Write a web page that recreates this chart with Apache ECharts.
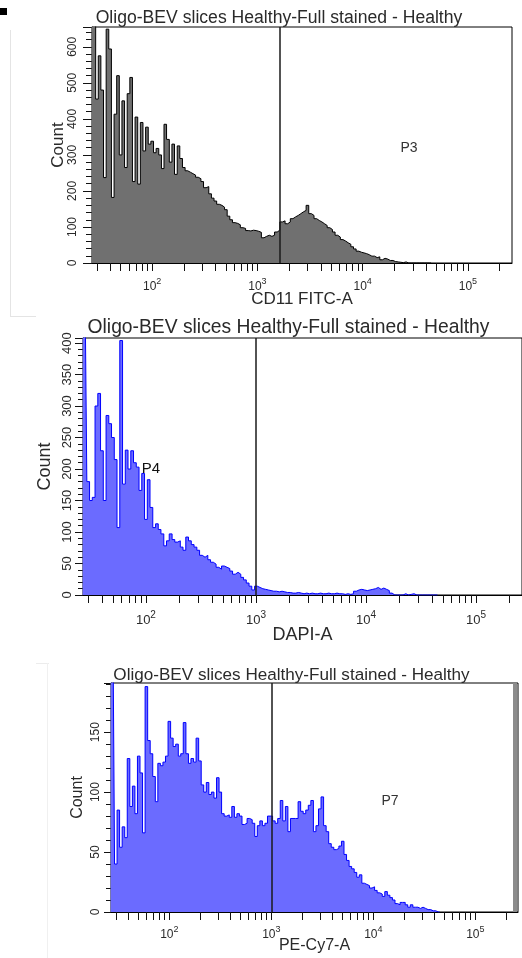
<!DOCTYPE html>
<html>
<head>
<meta charset="utf-8">
<script src="https://cdn.jsdelivr.net/npm/echarts@6/dist/echarts.min.js"></script>
<style>
  html, body { margin: 0; padding: 0; background: #fff; }
  #chart { width: 522px; height: 958px; }
</style>
</head>
<body>
<div id="chart"></div>
<script>
// ---- data -------------------------------------------------------------
const plotTitle = 'Oligo-BEV slices Healthy-Full stained - Healthy';
const channelNames = ['CD11 FITC-A', 'DAPI-A', 'PE-Cy7-A'];
const gateNames = ['P3', 'P4', 'P7'];
const gateValues = [1620, 1000, 1000];

// histogram bin centres (fluorescence intensity)
const binCenters = [26.6, 28.2, 29.9, 31.6, 33.5, 35.5, 37.6, 39.8, 42.2, 44.7,
  47.3, 50.1, 53.1, 56.2, 59.6, 63.1, 66.8, 70.8, 75.0, 79.4,
  84.1, 89.1, 94.4, 100, 106, 112, 119, 126, 133, 141,
  150, 158, 168, 178, 188, 200, 211, 224, 237, 251,
  266, 282, 299, 316, 335, 355, 376, 398, 422, 447,
  473, 501, 531, 562, 596, 631, 668, 708, 750, 794,
  841, 891, 944, 1000, 1059, 1122, 1189, 1259, 1334, 1413,
  1496, 1585, 1679, 1778, 1884, 1995, 2113, 2239, 2371, 2512,
  2661, 2818, 2985, 3162, 3350, 3548, 3758, 3981, 4217, 4467,
  4732, 5012, 5309, 5623, 5957, 6310, 6683, 7079, 7499, 7943,
  8414, 8913, 9441, 10000, 10593, 11220, 11885, 12589, 13335, 14125,
  14962, 15849, 16788, 17783, 18836, 19953, 21135, 22387, 23714, 25119,
  26607, 28184, 29854, 31623, 33497, 35481, 37584, 39811, 42170, 44668];

const cd11Counts = [700, 680, 455, 575, 480, 237, 649, 594, 182, 413,
  520, 300, 450, 265, 470, 515, 226, 405, 219, 390,
  311, 377, 330, 338, 306, 318, 300, 262, 385, 343,
  280, 330, 246, 325, 290, 265, 256, 252, 248, 244,
  238, 234, 226, 209, 212, 192, 180, 172, 163, 160,
  155, 148, 130, 120, 112, 110, 106, 98, 96, 90,
  89, 91, 90, 88, 85, 70, 74, 77, 74, 77,
  86, 91, 114, 117, 109, 114, 123, 128, 132, 137,
  142, 146, 160, 137, 132, 123, 118, 114, 109, 104,
  98, 93, 86, 77, 72, 65, 61, 56, 52, 45,
  39, 33, 30, 28, 26, 23, 19, 19, 15, 17,
  9, 13, 11, 7, 7, 4, 3, 2, 1, 3,
  0, 0, 0, 0, 0, 0, 0, 0, 0, 0];

const dapiCounts = [420, 420, 180, 150, 155, 300, 320, 229, 150, 285,
  272, 250, 215, 107, 404, 176, 230, 200, 229, 210,
  203, 166, 193, 120, 183, 139, 107, 113, 104, 97,
  78, 86, 97, 88, 84, 86, 76, 71, 92, 86,
  80, 76, 71, 63, 60, 63, 56, 52, 49, 44,
  41, 46, 44, 42, 38, 33, 36, 33, 28, 24,
  19, 14, 8, 14, 12, 10, 9, 8, 7, 6,
  6, 5, 6, 5, 4, 4, 3, 3, 4, 3,
  2, 3, 2, 3, 2, 2, 3, 2, 2, 3,
  2, 2, 3, 2, 2, 1, 2, 1, 2, 6,
  8, 9, 8, 7, 8, 9, 10, 12, 9, 11,
  9, 7, 3, 0, 0, 0, 0, 2, 0, 1,
  2, 0, 0, 0, 0, 0, 0, 0, 0, 0];

const pecy7Counts = [200, 200, 40, 85, 54, 71, 62, 128, 88, 105,
  82, 130, 116, 66, 188, 143, 132, 113, 92, 124,
  122, 125, 130, 159, 145, 138, 140, 130, 132, 158,
  132, 124, 128, 125, 145, 126, 106, 100, 108, 98,
  100, 95, 112, 100, 82, 80, 81, 79, 88, 79,
  82, 80, 73, 74, 78, 77, 74, 63, 72, 76,
  72, 74, 80, 80, 76, 74, 78, 93, 76, 88,
  67, 78, 78, 78, 92, 84, 82, 85, 89, 93,
  67, 72, 86, 96, 72, 67, 57, 54, 52, 53,
  55, 59, 48, 43, 38, 36, 33, 29, 31, 24,
  23, 22, 20, 21, 18, 16, 15, 13, 17, 14,
  12, 10, 7, 6, 8, 8, 6, 4, 6, 4,
  4, 3, 4, 3, 2, 2, 1, 1, 0, 0];

// axis ticks and labels
const xTickValues = [30, 40, 50, 60, 70, 80, 90,
  100, 200, 300, 400, 500, 600, 700, 800, 900,
  1000, 2000, 3000, 4000, 5000, 6000, 7000, 8000, 9000,
  10000, 20000, 30000, 40000, 50000, 60000, 70000, 80000, 90000,
  100000, 200000];
const xLabelValues = [100, 1000, 10000, 100000];
const xRange = [26.8, 262144];
const countMax = [655, 408, 191];
const countStep = [100, 50, 50];

// ---- layout -----------------------------------------------------------
const FONT = 'Liberation Sans';
const panels = [
  { counts: cd11Counts, line: '#000000', fill: '#707070',
    grid: { left: 92, top: 27, width: 420, height: 236 },
    title: { x: 279, y: 18, size: 17.6 },
    gateLabel: { x: 409, y: 148, size: 14, color: '#333' },
    tickFont: 12, yMargin: 13, yTick: 9, yMinor: 6, xMargin: 14,
    nameFont: 17, xNameGap: 28, yNameGap: 25 },
  { counts: dapiCounts, line: '#0000ff', fill: '#6b6bff',
    grid: { left: 83, top: 338, width: 457, height: 257 },
    title: { x: 288.5, y: 328, size: 19.3 },
    gateLabel: { x: 151, y: 469, size: 15, color: '#111' },
    tickFont: 13, yMargin: 9, yTick: 8, yMinor: 5, xMargin: 15,
    nameFont: 18, xNameGap: 31, yNameGap: 29 },
  { counts: pecy7Counts, line: '#0000ff', fill: '#6b6bff',
    grid: { left: 111, top: 683, width: 407, height: 229 },
    title: { x: 291.5, y: 675, size: 17.1 },
    gateLabel: { x: 390, y: 801, size: 14, color: '#333' },
    tickFont: 12, yMargin: 9, yTick: 7, yMinor: 5, xMargin: 13,
    nameFont: 16, xNameGap: 26, yNameGap: 25 }
];

const chart = echarts.init(document.getElementById('chart'), null, { renderer: 'canvas' });

const grids = [], xAxes = [], yAxes = [], series = [], graphics = [];

panels.forEach((p, i) => {
  grids.push(Object.assign({ show: true, borderColor: '#000', borderWidth: 1,
    backgroundColor: '#fff', containLabel: false }, p.grid));

  const supSize = p.tickFont - 3;
  xAxes.push({
    type: 'log', logBase: 10, gridIndex: i,
    min: xRange[0], max: xRange[1],
    name: channelNames[i], nameLocation: 'middle', nameGap: p.xNameGap,
    nameMoveOverlap: false,
    nameTextStyle: { fontFamily: FONT, fontSize: p.nameFont, color: '#2a2a2a' },
    axisLine: { show: true, lineStyle: { color: '#000', width: 1 } },
    axisTick: { show: true, customValues: xTickValues, length: 8,
      lineStyle: { color: '#111', width: 1 } },
    minorTick: { show: false },
    splitLine: { show: false },
    axisLabel: {
      show: true, customValues: xLabelValues, margin: p.xMargin,
      formatter: v => '{b|10}{s|' + Math.round(Math.log10(v)) + '}',
      rich: {
        // exponent lifted by bottom padding
        b: { fontFamily: FONT, fontSize: p.tickFont, color: '#2a2a2a' },
        s: { fontFamily: FONT, fontSize: supSize, color: '#2a2a2a', padding: [0, 0, 10, 0] }
      }
    }
  });

  yAxes.push({
    type: 'value', gridIndex: i, min: 0, max: countMax[i], interval: countStep[i],
    name: 'Count', nameLocation: 'middle', nameGap: p.yNameGap,
    nameMoveOverlap: false,
    nameTextStyle: { fontFamily: FONT, fontSize: p.nameFont, color: '#2a2a2a' },
    axisLine: { show: true, lineStyle: { color: '#000', width: 1 } },
    axisTick: { show: true, length: p.yTick, lineStyle: { color: '#111' } },
    minorTick: { show: true, splitNumber: 5, length: p.yMinor, lineStyle: { color: '#111' } },
    splitLine: { show: false },
    minorSplitLine: { show: false },
    axisLabel: {
      rotate: 90, margin: p.yMargin, fontFamily: FONT, fontSize: p.tickFont, color: '#2a2a2a',
      formatter: v => (v % countStep[i] === 0 ? String(v) : '')
    }
  });

  series.push({
    type: 'line', xAxisIndex: i, yAxisIndex: i, step: 'middle',
    symbol: 'none', clip: true, animation: false,
    data: binCenters.map((x, j) => [x, p.counts[j]]),
    lineStyle: { color: p.line, width: 1 },
    areaStyle: { color: p.fill, opacity: 1 },
    markLine: {
      silent: true, symbol: 'none', animation: false,
      label: { show: false },
      lineStyle: { color: '#1a1a1a', width: 1.5, type: 'solid' },
      data: [{ xAxis: gateValues[i] }]
    },
    z: 2
  });

  graphics.push({
    type: 'text', x: p.title.x, y: p.title.y, z: 10,
    style: { text: plotTitle, fontFamily: FONT, fontSize: p.title.size, fill: '#2a2a2a',
             align: 'center', verticalAlign: 'middle' }
  });
  graphics.push({
    type: 'text', z: 10, x: p.gateLabel.x, y: p.gateLabel.y,
    style: { text: gateNames[i], fontFamily: FONT, fontSize: p.gateLabel.size,
             fill: p.gateLabel.color, align: 'center', verticalAlign: 'middle' }
  });
});

// frame details around the panels
graphics.push(
  { type: 'rect', shape: { x: 0, y: 8, width: 7, height: 7 }, style: { fill: '#000' } },
  { type: 'line', shape: { x1: 10.5, y1: 30, x2: 10.5, y2: 316 }, style: { stroke: '#e4e4e4', lineWidth: 1 } },
  { type: 'line', shape: { x1: 10, y1: 316.5, x2: 36, y2: 316.5 }, style: { stroke: '#e4e4e4', lineWidth: 1 } },
  { type: 'line', shape: { x1: 36, y1: 663.5, x2: 49, y2: 663.5 }, style: { stroke: '#ececec', lineWidth: 1 } },
  { type: 'line', shape: { x1: 47.5, y1: 663, x2: 47.5, y2: 958 }, style: { stroke: '#f0f0f0', lineWidth: 1 } },
  { type: 'rect', z: 5, shape: { x: 513, y: 683, width: 4, height: 229 }, style: { fill: '#8c8c8c' } }
);

chart.setOption({
  animation: false,
  backgroundColor: '#fff',
  textStyle: { fontFamily: FONT },
  grid: grids,
  xAxis: xAxes,
  yAxis: yAxes,
  series: series,
  graphic: graphics
});
</script>
</body>
</html>
